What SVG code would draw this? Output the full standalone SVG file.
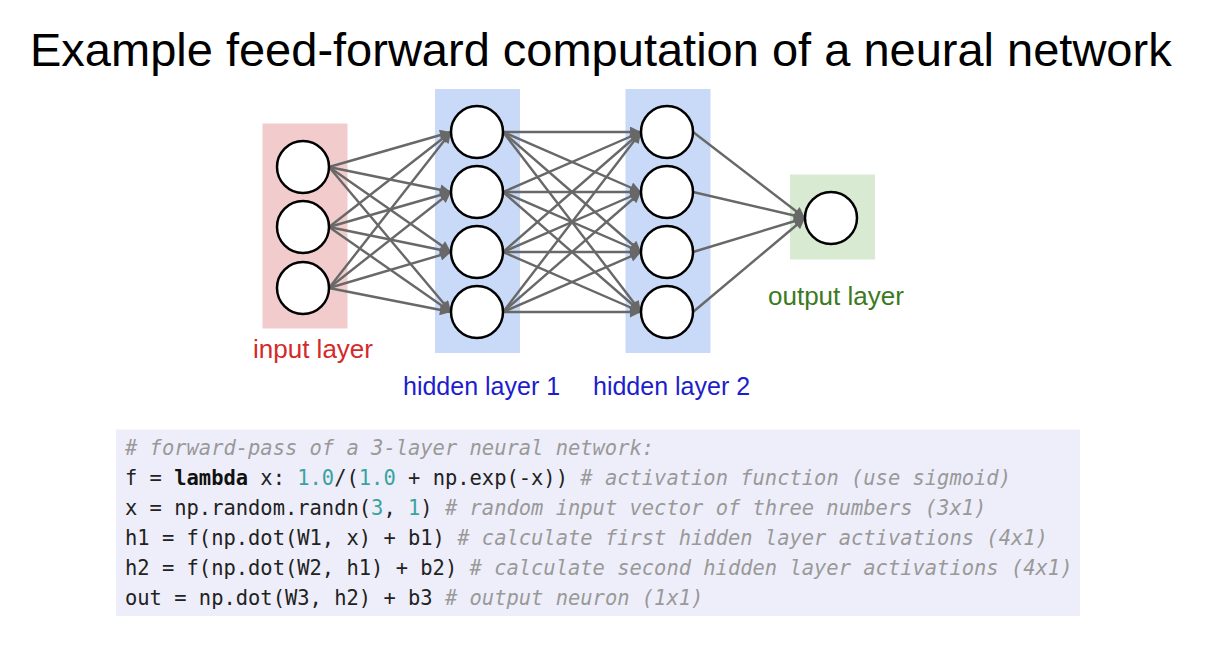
<svg xmlns="http://www.w3.org/2000/svg" width="1211" height="665" viewBox="0 0 1211 665">
<style>
.title{font-family:"Liberation Sans",Arial,sans-serif;font-size:47px;fill:#000}
.lbl{font-family:"Liberation Sans",Arial,sans-serif;font-size:25px}
.big{font-size:26px}
.node{fill:#fff;stroke:#000;stroke-width:2.5}
.edge{stroke:#686868;stroke-width:2.4;fill:none;marker-end:url(#arr)}
.code{font-family:"DejaVu Sans Mono",monospace;font-size:20.45px;fill:#222;white-space:pre}
.cm{fill:#999;font-style:italic}
.num{fill:#3aa3a0}
.kw{font-weight:bold;fill:#111}
</style>
<defs>
<marker id="arr" viewBox="0 0 10 10" refX="10" refY="5" markerWidth="14" markerHeight="11" markerUnits="userSpaceOnUse" orient="auto">
<path d="M0,0 L10,5 L0,10 z" fill="#686868"/>
</marker>
</defs>
<rect width="1211" height="665" fill="#fff"/>
<text class="title" x="30" y="66">Example feed-forward computation of a neural network</text>

<g id="layer-boxes">
<rect x="262.5" y="123.5" width="85" height="205" fill="#f2cccc"/>
<rect x="435" y="89" width="85" height="264" fill="#c9daf8"/>
<rect x="625.5" y="89" width="85" height="264" fill="#c9daf8"/>
<rect x="790" y="174.5" width="85" height="85" fill="#d9ead3"/>
</g>

<g id="connectors">
<line class="edge" x1="329" y1="167" x2="451" y2="132"/>
<line class="edge" x1="329" y1="167" x2="451" y2="192"/>
<line class="edge" x1="329" y1="167" x2="451" y2="252"/>
<line class="edge" x1="329" y1="167" x2="451" y2="312"/>
<line class="edge" x1="329" y1="227" x2="451" y2="132"/>
<line class="edge" x1="329" y1="227" x2="451" y2="192"/>
<line class="edge" x1="329" y1="227" x2="451" y2="252"/>
<line class="edge" x1="329" y1="227" x2="451" y2="312"/>
<line class="edge" x1="329" y1="288" x2="451" y2="132"/>
<line class="edge" x1="329" y1="288" x2="451" y2="192"/>
<line class="edge" x1="329" y1="288" x2="451" y2="252"/>
<line class="edge" x1="329" y1="288" x2="451" y2="312"/>
<line class="edge" x1="503" y1="132" x2="641" y2="132"/>
<line class="edge" x1="503" y1="132" x2="641" y2="192"/>
<line class="edge" x1="503" y1="132" x2="641" y2="252"/>
<line class="edge" x1="503" y1="132" x2="641" y2="312"/>
<line class="edge" x1="503" y1="192" x2="641" y2="132"/>
<line class="edge" x1="503" y1="192" x2="641" y2="192"/>
<line class="edge" x1="503" y1="192" x2="641" y2="252"/>
<line class="edge" x1="503" y1="192" x2="641" y2="312"/>
<line class="edge" x1="503" y1="252" x2="641" y2="132"/>
<line class="edge" x1="503" y1="252" x2="641" y2="192"/>
<line class="edge" x1="503" y1="252" x2="641" y2="252"/>
<line class="edge" x1="503" y1="252" x2="641" y2="312"/>
<line class="edge" x1="503" y1="312" x2="641" y2="132"/>
<line class="edge" x1="503" y1="312" x2="641" y2="192"/>
<line class="edge" x1="503" y1="312" x2="641" y2="252"/>
<line class="edge" x1="503" y1="312" x2="641" y2="312"/>
<line class="edge" x1="693" y1="132" x2="805" y2="218"/>
<line class="edge" x1="693" y1="192" x2="805" y2="218"/>
<line class="edge" x1="693" y1="252" x2="805" y2="218"/>
<line class="edge" x1="693" y1="312" x2="805" y2="218"/>
</g>

<g id="input-layer">
<circle class="node" cx="303" cy="167" r="26"/>
<circle class="node" cx="303" cy="227" r="26"/>
<circle class="node" cx="303" cy="288" r="26"/>
<text class="lbl big" x="253" y="358" fill="#d42a2a">input layer</text>
</g>
<g id="hidden-layer-1">
<circle class="node" cx="477" cy="132" r="26"/>
<circle class="node" cx="477" cy="192" r="26"/>
<circle class="node" cx="477" cy="252" r="26"/>
<circle class="node" cx="477" cy="312" r="26"/>
<text class="lbl" x="403" y="395" fill="#1d1dcc">hidden layer 1</text>
</g>
<g id="hidden-layer-2">
<circle class="node" cx="667" cy="132" r="26"/>
<circle class="node" cx="667" cy="192" r="26"/>
<circle class="node" cx="667" cy="252" r="26"/>
<circle class="node" cx="667" cy="312" r="26"/>
<text class="lbl" x="593" y="395" fill="#1d1dcc">hidden layer 2</text>
</g>
<g id="output-layer">
<circle class="node" cx="831" cy="218" r="26"/>
<text class="lbl big" x="768" y="305" fill="#3c7a22">output layer</text>
</g>

<g id="code-block">
<rect x="116" y="429.5" width="964" height="186.5" fill="#eeeefa"/>
<text class="code" x="125" y="454.5"><tspan class="cm"># forward-pass of a 3-layer neural network:</tspan></text>
<text class="code" x="125" y="484.5">f = <tspan class="kw">lambda</tspan> x: <tspan class="num">1.0</tspan>/(<tspan class="num">1.0</tspan> + np.exp(-x)) <tspan class="cm"># activation function (use sigmoid)</tspan></text>
<text class="code" x="125" y="514.5">x = np.random.randn(<tspan class="num">3</tspan>, <tspan class="num">1</tspan>) <tspan class="cm"># random input vector of three numbers (3x1)</tspan></text>
<text class="code" x="125" y="544.5">h1 = f(np.dot(W1, x) + b1) <tspan class="cm"># calculate first hidden layer activations (4x1)</tspan></text>
<text class="code" x="125" y="574.5">h2 = f(np.dot(W2, h1) + b2) <tspan class="cm"># calculate second hidden layer activations (4x1)</tspan></text>
<text class="code" x="125" y="604.5">out = np.dot(W3, h2) + b3 <tspan class="cm"># output neuron (1x1)</tspan></text>
</g>
</svg>
